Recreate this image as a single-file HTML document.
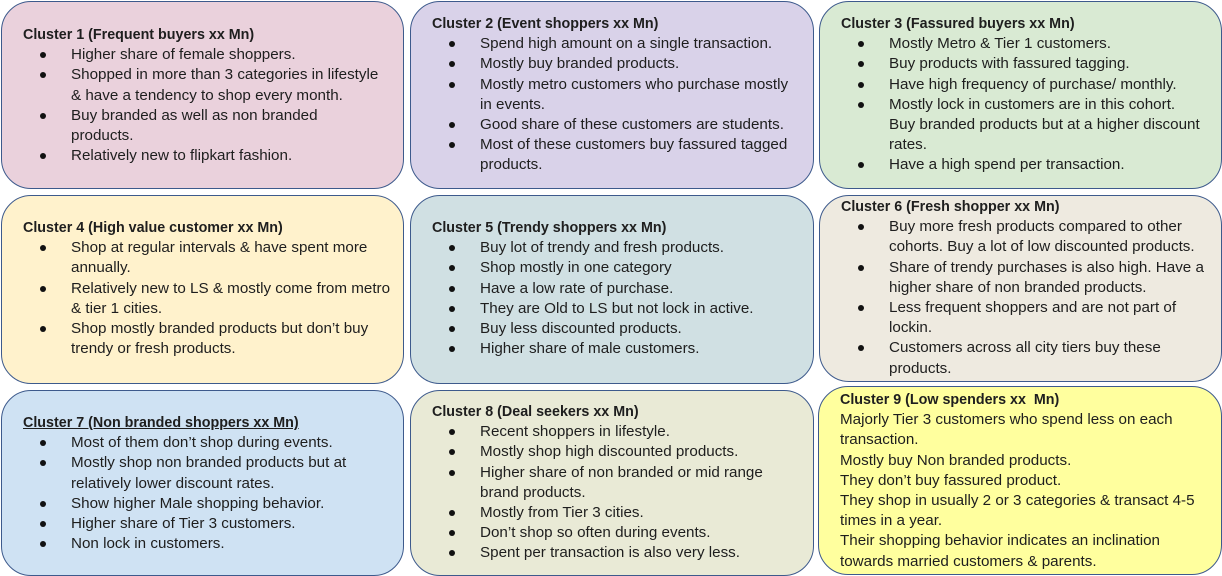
<!DOCTYPE html>
<html><head><meta charset="utf-8"><style>
*{margin:0;padding:0;box-sizing:border-box}
body{width:1222px;height:575px;background:#fff;position:relative;overflow:hidden;font-family:"Liberation Sans",sans-serif;font-size:15.2px;color:#1e1e1e}
.box{position:absolute;border:1.3px solid #3d5a8c;border-radius:30px}
.in{position:absolute;left:21px;right:4px}
.l{height:20.2px;line-height:20.2px;white-space:nowrap;position:relative}
.t{font-weight:bold;font-size:14.3px}
.b,.c{padding-left:48px}
.b::before{content:"";position:absolute;left:17px;top:7px;width:6px;height:6px;border-radius:50%;background:#111}
</style></head><body>

<div class="box" style="left:1px;top:1px;width:403px;height:188px;background:#ead1dc">
<div class="in" style="top:23px">
<div class="l t">Cluster 1 (Frequent buyers xx Mn)</div>
<div class="l b">Higher share of female shoppers.</div>
<div class="l b">Shopped in more than 3 categories in lifestyle</div>
<div class="l c">&amp; have a tendency to shop every month.</div>
<div class="l b">Buy branded as well as non branded</div>
<div class="l c">products.</div>
<div class="l b">Relatively new to flipkart fashion.</div>
</div></div>

<div class="box" style="left:410px;top:1px;width:404px;height:188px;background:#d9d2e9">
<div class="in" style="top:12px">
<div class="l t">Cluster 2 (Event shoppers xx Mn)</div>
<div class="l b">Spend high amount on a single transaction.</div>
<div class="l b">Mostly buy branded products.</div>
<div class="l b">Mostly metro customers who purchase mostly</div>
<div class="l c">in events.</div>
<div class="l b">Good share of these customers are students.</div>
<div class="l b">Most of these customers buy fassured tagged</div>
<div class="l c">products.</div>
</div></div>

<div class="box" style="left:819px;top:1px;width:403px;height:188px;background:#d9ead3">
<div class="in" style="top:12px">
<div class="l t">Cluster 3 (Fassured buyers xx Mn)</div>
<div class="l b">Mostly Metro &amp; Tier 1 customers.</div>
<div class="l b">Buy products with fassured tagging.</div>
<div class="l b">Have high frequency of purchase/ monthly.</div>
<div class="l b">Mostly lock in customers are in this cohort.</div>
<div class="l c">Buy branded products but at a higher discount</div>
<div class="l c">rates.</div>
<div class="l b">Have a high spend per transaction.</div>
</div></div>

<div class="box" style="left:1px;top:195px;width:403px;height:189px;background:#fff2cc">
<div class="in" style="top:22px">
<div class="l t">Cluster 4 (High value customer xx Mn)</div>
<div class="l b">Shop at regular intervals &amp; have spent more</div>
<div class="l c">annually.</div>
<div class="l b">Relatively new to LS &amp; mostly come from metro</div>
<div class="l c">&amp; tier 1 cities.</div>
<div class="l b">Shop mostly branded products but don’t buy</div>
<div class="l c">trendy or fresh products.</div>
</div></div>

<div class="box" style="left:410px;top:195px;width:404px;height:189px;background:#d0e0e3">
<div class="in" style="top:22px">
<div class="l t">Cluster 5 (Trendy shoppers xx Mn)</div>
<div class="l b">Buy lot of trendy and fresh products.</div>
<div class="l b">Shop mostly in one category</div>
<div class="l b">Have a low rate of purchase.</div>
<div class="l b">They are Old to LS but not lock in active.</div>
<div class="l b">Buy less discounted products.</div>
<div class="l b">Higher share of male customers.</div>
</div></div>

<div class="box" style="left:819px;top:195px;width:403px;height:187px;background:#eeeae0">
<div class="in" style="top:1px">
<div class="l t">Cluster 6 (Fresh shopper xx Mn)</div>
<div class="l b">Buy more fresh products compared to other</div>
<div class="l c">cohorts. Buy a lot of low discounted products.</div>
<div class="l b">Share of trendy purchases is also high. Have a</div>
<div class="l c">higher share of non branded products.</div>
<div class="l b">Less frequent shoppers and are not part of</div>
<div class="l c">lockin.</div>
<div class="l b">Customers across all city tiers buy these</div>
<div class="l c">products.</div>
</div></div>

<div class="box" style="left:1px;top:390px;width:403px;height:186px;background:#cfe2f3">
<div class="in" style="top:22px">
<div class="l t" style="text-decoration:underline">Cluster 7 (Non branded shoppers xx Mn)</div>
<div class="l b">Most of them don’t shop during events.</div>
<div class="l b">Mostly shop non branded products but at</div>
<div class="l c">relatively lower discount rates.</div>
<div class="l b">Show higher Male shopping behavior.</div>
<div class="l b">Higher share of Tier 3 customers.</div>
<div class="l b">Non lock in customers.</div>
</div></div>

<div class="box" style="left:410px;top:390px;width:404px;height:186px;background:#e9ead6">
<div class="in" style="top:11px">
<div class="l t">Cluster 8 (Deal seekers xx Mn)</div>
<div class="l b">Recent shoppers in lifestyle.</div>
<div class="l b">Mostly shop high discounted products.</div>
<div class="l b">Higher share of non branded or mid range</div>
<div class="l c">brand products.</div>
<div class="l b">Mostly from Tier 3 cities.</div>
<div class="l b">Don’t shop so often during events.</div>
<div class="l b">Spent per transaction is also very less.</div>
</div></div>

<div class="box" style="left:818px;top:386px;width:404px;height:189px;background:#ffff9e">
<div class="in" style="top:3px">
<div class="l t">Cluster 9 (Low spenders xx &nbsp;Mn)</div>
<div class="l">Majorly Tier 3 customers who spend less on each</div>
<div class="l">transaction.</div>
<div class="l">Mostly buy Non branded products.</div>
<div class="l">They don’t buy fassured product.</div>
<div class="l">They shop in usually 2 or 3 categories &amp; transact 4-5</div>
<div class="l">times in a year.</div>
<div class="l">Their shopping behavior indicates an inclination</div>
<div class="l">towards married customers &amp; parents.</div>
</div></div>

</body></html>
